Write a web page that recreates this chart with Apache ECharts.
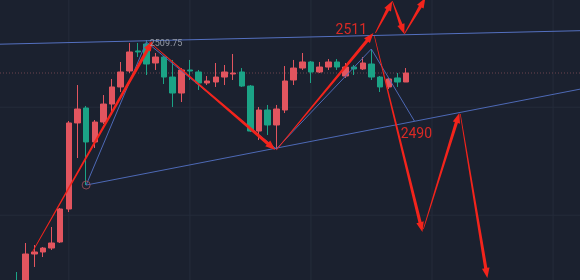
<!DOCTYPE html>
<html><head><meta charset="utf-8">
<script src="https://cdn.jsdelivr.net/npm/echarts@6/dist/echarts.min.js"></script>
<style>html,body{margin:0;padding:0;background:#1b212f;}#c{width:580px;height:280px;}</style>
</head><body><div id="c"></div>
<script>
// ---- candle data (OHLC) ----
const opens  = [2475.50,2475.31,2479.61,2479.89,2480.44,2481.28,2485.86,2497.81,2499.89,2495.17,2497.94,2500.44,2502.81,2505.03,2507.81,2508.78,2506.14,2506.97,2504.19,2501.97,2505.17,2504.89,2503.36,2503.50,2504.19,2504.61,2504.89,2502.94,2496.69,2499.61,2497.53,2499.61,2503.78,2505.44,2506.28,2504.89,2505.58,2506.28,2504.33,2505.58,2505.31,2506.00,2504.19,2502.81,2504.06,2503.50];
const closes = [2474.50,2479.61,2479.89,2480.44,2481.14,2485.86,2497.81,2499.75,2495.17,2497.94,2500.44,2502.81,2504.89,2507.67,2507.67,2506.00,2506.97,2504.19,2501.97,2505.17,2505.03,2503.36,2503.64,2504.19,2504.89,2504.75,2502.94,2496.69,2499.61,2497.53,2499.75,2503.64,2505.44,2506.28,2504.89,2505.58,2506.28,2505.58,2505.58,2505.31,2506.14,2504.19,2502.81,2503.92,2503.50,2504.75];
const lows   = [2474.00,2475.00,2477.81,2479.19,2480.17,2481.14,2485.44,2492.94,2489.19,2494.33,2497.67,2498.92,2502.11,2504.75,2506.97,2504.47,2505.17,2503.22,2500.03,2500.72,2503.78,2502.39,2503.08,2502.81,2503.08,2503.78,2502.81,2496.56,2495.44,2496.14,2494.19,2499.19,2503.08,2505.17,2503.36,2504.75,2505.17,2505.17,2504.06,2504.47,2505.17,2503.78,2502.11,2502.53,2502.81,2503.50];
const highs  = [2477.11,2481.14,2480.86,2480.58,2483.36,2486.00,2498.08,2503.08,2500.17,2498.22,2501.69,2503.92,2506.28,2508.92,2508.92,2509.33,2507.53,2507.11,2506.56,2505.44,2506.56,2505.17,2504.33,2506.14,2505.86,2507.39,2505.44,2503.08,2500.03,2500.31,2500.31,2505.72,2506.56,2507.53,2506.42,2506.28,2506.69,2506.69,2506.14,2505.86,2506.97,2508.08,2504.33,2504.06,2504.75,2505.44];

// ---- drawing annotations, in (bar index, price) ----
const upperChannel = [-2.4, 2508.74, 65.6, 2510.64];
const lowerChannel = [8, 2489.19, 65.6, 2502.62];
const zigzag = [[8, 2489.19], [14.97, 2509.06], [29.99, 2494.19], [40.98, 2508.08], [45.96, 2498.08]];
const pivotMark = [[8, 2489.19]];
const arrows = [
  [1.78, 2479.89, 15.67, 2509.19],
  [15.31, 2509.06, 29.88, 2494.06],
  [29.99, 2494.06, 41.22, 2510.31],
  [41.45, 2510.31, 43.41, 2514.75],
  [43.41, 2514.75, 44.80, 2510.17],
  [44.80, 2510.17, 47.23, 2515.17],
  [41.33, 2509.89, 46.89, 2482.67],
  [47.00, 2483.08, 51.16, 2499.19],
  [51.27, 2499.06, 54.40, 2476.28]
];
const bigLabels = [[38.67, 2510.65, '2511'], [46.19, 2496.14, '2490']];
const priceTag = [[15.35, 2508.78, '2509.75']];
const gridPrices = [2500, 2485];
const gridBars = [6, 20, 34, 48, 62];

const leadSlots = 1, slotCount = 66;
const yMin = 2476, yMax = 2514.889;
const xMin = -leadSlots - 0.5, xMax = slotCount - leadSlots - 0.5;

const categories = [];
for (let k = 0; k < slotCount; k++) categories.push(String(k - leadSlots));
const candleData = opens.map((o, i) => [i + leadSlots, o, closes[i], lows[i], highs[i]]);

const segs = [];
gridPrices.forEach(p => segs.push([-3, p, 67, p]));
gridBars.forEach(b => segs.push([b, yMin, b, yMax]));
const lastClose = closes[closes.length - 1];
const zigSegs = [];
for (let k = 0; k < zigzag.length - 1; k++) zigSegs.push([zigzag[k][0], zigzag[k][1], zigzag[k + 1][0], zigzag[k + 1][1]]);

function segRender(style) {
  return function (params, api) {
    const a = api.coord([api.value(0), api.value(1)]);
    const b = api.coord([api.value(2), api.value(3)]);
    return { type: 'line', shape: { x1: a[0], y1: a[1], x2: b[0], y2: b[1] }, style: style };
  };
}
function arrowRender(params, api) {
  const a = api.coord([api.value(0), api.value(1)]);
  const b = api.coord([api.value(2), api.value(3)]);
  const dx = b[0] - a[0], dy = b[1] - a[1], L = Math.hypot(dx, dy);
  const ux = dx / L, uy = dy / L, nx = -uy, ny = ux;
  const headL = 10, headW = 3.8, w0 = 0.35, w1 = 1.6;
  const bx = b[0] - ux * headL, by = b[1] - uy * headL;
  const pts = [
    [a[0] + nx * w0, a[1] + ny * w0], [bx + nx * w1, by + ny * w1], [bx + nx * headW, by + ny * headW],
    [b[0], b[1]], [bx - nx * headW, by - ny * headW], [bx - nx * w1, by - ny * w1], [a[0] - nx * w0, a[1] - ny * w0]
  ];
  return { type: 'polygon', shape: { points: pts }, style: { fill: '#f3241c' } };
}
function textRender(font, color, align) {
  return function (params, api) {
    const p = api.coord([api.value(0), api.value(1)]);
    const d = params.dataIndex;
    return { type: 'text', x: p[0], y: p[1], style: { text: params.seriesName === 'big' ? bigLabels[d][2] : priceTag[d][2], fill: color, font: font, align: align, verticalAlign: 'middle' } };
  };
}

const chart = echarts.init(document.getElementById('c'), null, { renderer: 'canvas' });
chart.setOption({
  backgroundColor: '#1b212f',
  animation: false,
  grid: { left: 4, width: 570.7, top: 0, bottom: 0 },
  xAxis: [
    { type: 'category', data: categories, boundaryGap: true, show: false },
    { type: 'value', min: xMin, max: xMax, show: false }
  ],
  yAxis: [{ type: 'value', min: yMin, max: yMax, show: false, splitLine: { show: false } }],
  series: [
    { type: 'custom', name: 'grid', xAxisIndex: 1, z: 0, silent: true, clip: false,
      renderItem: segRender({ stroke: '#252c3b', lineWidth: 1 }), data: segs },
    { type: 'custom', name: 'priceLine', xAxisIndex: 1, z: 1, silent: true, clip: false,
      renderItem: segRender({ stroke: '#6e4650', lineWidth: 1, lineDash: [1, 2] }),
      data: [[-3, lastClose, 67, lastClose]] },
    { type: 'candlestick', xAxisIndex: 0, z: 2, barWidth: 6,
      encode: { x: 0, y: [1, 2, 3, 4] },
      itemStyle: { color: '#e2555f', color0: '#1ba386', borderColor: '#e2555f', borderColor0: '#1ba386', borderWidth: 1 },
      data: candleData },
    { type: 'custom', name: 'upper', xAxisIndex: 1, z: 3, silent: true, clip: false,
      renderItem: segRender({ stroke: '#5470c0', lineWidth: 1 }), data: [upperChannel] },
    { type: 'custom', name: 'lower', xAxisIndex: 1, z: 3, silent: true, clip: false,
      renderItem: segRender({ stroke: '#4d69b6', lineWidth: 1 }), data: [lowerChannel] },
    { type: 'custom', name: 'zig', xAxisIndex: 1, z: 3, silent: true, clip: false,
      renderItem: segRender({ stroke: '#4d69b6', lineWidth: 1 }), data: zigSegs },
    { type: 'scatter', xAxisIndex: 1, z: 4, symbol: 'circle', symbolSize: 8, silent: true,
      itemStyle: { color: 'rgba(0,0,0,0)', borderColor: '#a5525d', borderWidth: 1 }, data: pivotMark },
    { type: 'custom', name: 'arrows', xAxisIndex: 1, z: 5, silent: true, clip: false, renderItem: arrowRender, data: arrows },
    { type: 'custom', name: 'big', xAxisIndex: 1, z: 6, silent: true, clip: false,
      renderItem: textRender('14px Roboto, sans-serif', '#d92a25', 'center'), data: bigLabels.map(d => [d[0], d[1]]) },
    { type: 'custom', name: 'tag', xAxisIndex: 1, z: 6, silent: true, clip: false,
      renderItem: textRender('9px Roboto, sans-serif', '#959ba6', 'left'), data: priceTag.map(d => [d[0], d[1]]) }
  ]
});
</script></body></html>
